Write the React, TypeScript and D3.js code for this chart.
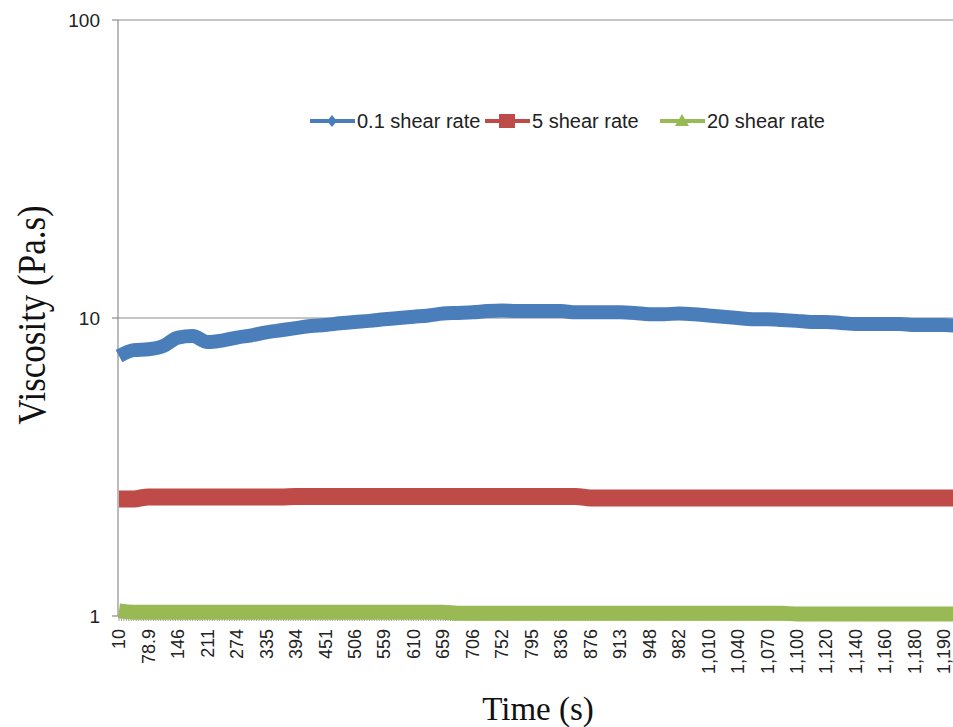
import React from "react";
import * as d3 from "d3";

// Category time labels (every 12th category on the x axis)
const timeLabels = [
  "10", "78.9", "146", "211", "274", "335", "394", "451", "506", "559",
  "610", "659", "706", "752", "795", "836", "876", "913", "948", "982",
  "1,010", "1,040", "1,070", "1,100", "1,120", "1,140", "1,160", "1,180", "1,190",
];

// Viscosity values sampled every 6 categories
const shear01 = [
  7.45, 7.8, 7.85, 8.05, 8.6, 8.7, 8.3, 8.4, 8.6, 8.75,
  8.95, 9.1, 9.25, 9.4, 9.47, 9.6, 9.7, 9.78, 9.9, 10.0,
  10.1, 10.2, 10.35, 10.4, 10.45, 10.55, 10.6, 10.55, 10.55, 10.55,
  10.55, 10.45, 10.45, 10.45, 10.45, 10.4, 10.3, 10.3, 10.35, 10.3,
  10.2, 10.1, 10.0, 9.9, 9.9, 9.85, 9.78, 9.7, 9.7, 9.62,
  9.55, 9.55, 9.55, 9.55, 9.47, 9.47, 9.47, 9.4,
];
const shear5 = [
  2.47, 2.47, 2.51, 2.51, 2.51, 2.51, 2.51, 2.51, 2.51, 2.51,
  2.51, 2.51, 2.52, 2.52, 2.52, 2.52, 2.52, 2.52, 2.52, 2.52,
  2.52, 2.52, 2.52, 2.52, 2.52, 2.52, 2.52, 2.52, 2.52, 2.52,
  2.52, 2.52, 2.49, 2.49, 2.49, 2.49, 2.49, 2.49, 2.49, 2.49,
  2.49, 2.49, 2.49, 2.49, 2.49, 2.49, 2.49, 2.49, 2.49, 2.49,
  2.49, 2.49, 2.49, 2.49, 2.49, 2.49, 2.49, 2.49,
];
const shear20 = [
  1.04, 1.03, 1.03, 1.03, 1.03, 1.03, 1.03, 1.03, 1.03, 1.03,
  1.03, 1.03, 1.03, 1.03, 1.03, 1.03, 1.03, 1.03, 1.03, 1.03,
  1.03, 1.03, 1.03, 1.022, 1.022, 1.022, 1.022, 1.022, 1.022, 1.022,
  1.022, 1.022, 1.022, 1.022, 1.022, 1.022, 1.022, 1.022, 1.022, 1.022,
  1.022, 1.022, 1.022, 1.022, 1.022, 1.022, 1.015, 1.015, 1.015, 1.015,
  1.015, 1.015, 1.015, 1.015, 1.015, 1.015, 1.015, 1.015,
];
const seriesNames = ["0.1 shear rate", "5 shear rate", "20 shear rate"];
const yTicks = [1, 10, 100];

const LABEL_EVERY = 12;
const SAMPLE_EVERY = 6;
const N_CATS = 342;

export default function App() {
  const W = 953, H = 727;
  const x = d3.scaleLinear().domain([0, (timeLabels.length - 1) * LABEL_EVERY]).range([119, 944]);
  const y = d3.scaleLog().domain([1, 100]).range([616, 20]);
  const axisX = 118;
  const grid = "#8c8c8c";

  const mk = (vals: number[]) =>
    d3.line<number>().x((_, i) => x(i * SAMPLE_EVERY)).y((v) => y(v)).curve(d3.curveMonotoneX)(vals) || "";

  const series = [
    { vals: shear01, color: "#4A7EBB", width: 14 },
    { vals: shear5, color: "#BE4B48", width: 17 },
    { vals: shear20, color: "#98B954", width: 15 },
  ];

  const cats = d3.range(N_CATS);

  const legend = [
    { x: 310, tx: 357, color: "#4A7EBB", marker: "diamond" },
    { x: 485, tx: 532, color: "#BE4B48", marker: "square" },
    { x: 660, tx: 707, color: "#98B954", marker: "triangle" },
  ];
  const ly = 121;

  const markerPath = (m: string, cx: number, cy: number) => {
    if (m === "diamond") return `M${cx},${cy - 6}L${cx + 5},${cy}L${cx},${cy + 6}L${cx - 5},${cy}Z`;
    if (m === "square") return `M${cx - 8},${cy - 7}h16v14h-16Z`;
    return `M${cx},${cy - 7}L${cx + 7},${cy + 5}L${cx - 7},${cy + 5}Z`;
  };

  return (
    <svg width={W} height={H} style={{ position: "absolute", left: 0, top: 0, background: "#fff" }}>
      {/* gridlines */}
      {yTicks.filter((t) => t !== 1).map((t) => (
        <line key={t} x1={axisX} x2={W} y1={y(t)} y2={y(t)} stroke={grid} strokeWidth={1.2} />
      ))}
      {/* y axis */}
      <line x1={axisX} x2={axisX} y1={y(100)} y2={y(1)} stroke={grid} strokeWidth={1.2} />
      {yTicks.map((t) => (
        <g key={t}>
          <line x1={axisX - 6} x2={axisX} y1={y(t)} y2={y(t)} stroke={grid} strokeWidth={1.2} />
          <text x={100} y={y(t)} dy="0.35em" textAnchor="end" fontFamily="Liberation Sans, Arial, sans-serif" fontSize={19} fill="#222">
            {t}
          </text>
        </g>
      ))}
      {/* x axis */}
      <line x1={axisX} x2={W} y1={y(1)} y2={y(1)} stroke={grid} strokeWidth={1.2} />
      {cats.map((c) => (
        <line key={c} x1={x(c)} x2={x(c)} y1={y(1)} y2={y(1) + 5} stroke={grid} strokeWidth={0.8} />
      ))}
      {timeLabels.map((lab, i) => (
        <text
          key={lab}
          transform={`translate(${x(i * LABEL_EVERY)},${629}) rotate(-90)`}
          dy="0.35em"
          textAnchor="end"
          fontFamily="Liberation Sans, Arial, sans-serif"
          fontSize={18}
          fill="#222"
        >
          {lab}
        </text>
      ))}
      {/* series */}
      {series.map((s, i) => (
        <path key={i} d={mk(s.vals)} fill="none" stroke={s.color} strokeWidth={s.width} strokeLinejoin="round" />
      ))}
      {/* legend */}
      {legend.map((l, i) => (
        <g key={i}>
          <line x1={l.x} x2={l.x + 45} y1={ly} y2={ly} stroke={l.color} strokeWidth={4} />
          <path d={markerPath(l.marker, l.x + 22, ly)} fill={l.color} />
          <text x={l.tx} y={ly} dy="0.35em" fontFamily="Liberation Sans, Arial, sans-serif" fontSize={20} fill="#222">
            {seriesNames[i]}
          </text>
        </g>
      ))}
      {/* axis titles */}
      <text x={538} y={720} textAnchor="middle" fontFamily="Liberation Serif, Times New Roman, serif" fontSize={33} fill="#111">
        Time (s)
      </text>
      <text
        transform={`translate(${45},${315}) rotate(-90) scale(1,1.15)`}
        textAnchor="middle"
        fontFamily="Liberation Serif, Times New Roman, serif"
        fontSize={35}
        fill="#111"
      >
        Viscosity (Pa.s)
      </text>
    </svg>
  );
}
